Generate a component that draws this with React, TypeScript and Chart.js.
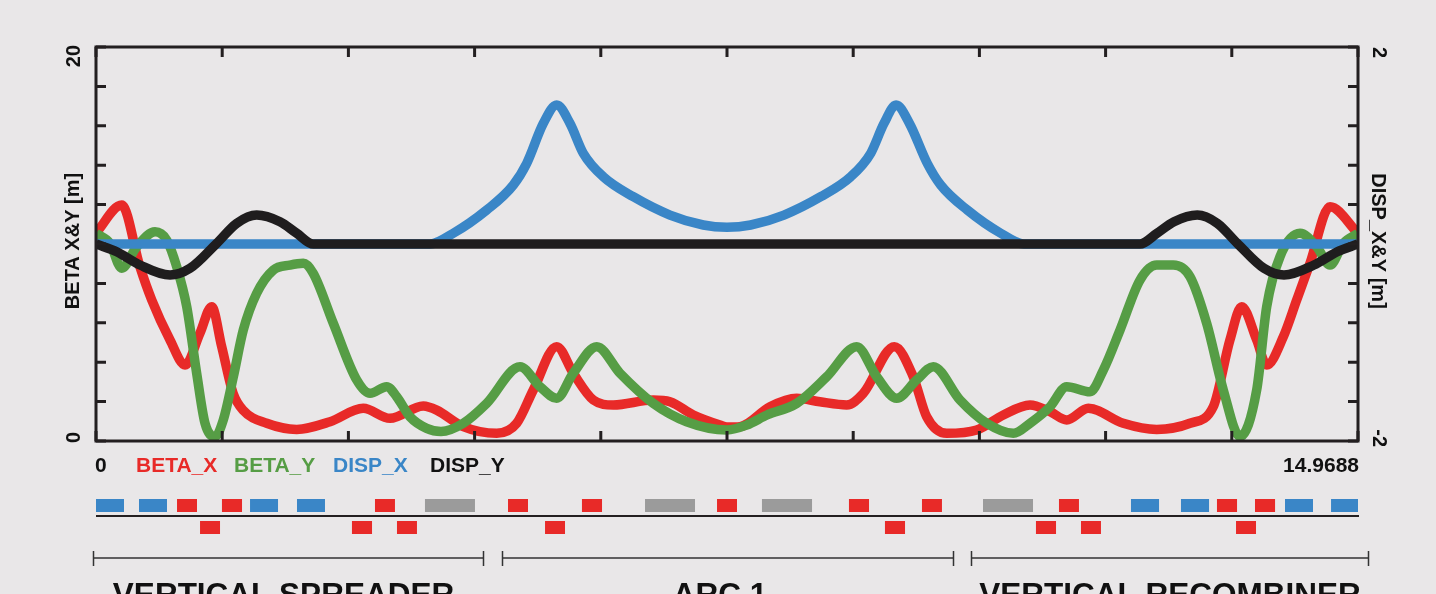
import React, { useEffect, useRef } from 'react';
import { Chart, registerables } from 'chart.js';

Chart.register(...registerables);

// ---------------- data ----------------
const S_MIN = 0;
const S_MAX = 14.9688;

const BETA_X_S = [0, 0.305, 0.522, 0.661, 0.878, 1.056, 1.234, 1.372, 1.491, 1.625, 1.744, 2.025, 2.381, 2.776, 3.17, 3.487, 3.882, 4.041, 4.357, 4.753, 4.99, 5.187, 5.464, 5.661, 5.899, 6.136, 6.61, 6.808, 7.085, 7.401, 7.484, 7.638, 7.994, 8.311, 8.587, 8.904, 9.101, 9.47, 9.694, 9.853, 10.09, 10.446, 10.762, 11.078, 11.316, 11.514, 11.77, 12.185, 12.581, 12.976, 13.252, 13.45, 13.589, 13.767, 13.886, 14.083, 14.242, 14.399, 14.637, 14.9688];
const BETA_X = [10.56, 11.98, 8.83, 7.16, 5.13, 3.86, 5.48, 6.82, 4.79, 2.44, 1.57, 0.9, 0.59, 0.98, 1.66, 1.15, 1.78, 1.57, 0.73, 0.39, 0.9, 2.59, 4.79, 3.44, 2.08, 1.83, 2.08, 1.99, 1.32, 0.81, 0.71, 0.73, 1.74, 2.17, 1.99, 1.83, 2.42, 4.79, 3.26, 1.23, 0.39, 0.56, 1.32, 1.83, 1.49, 1.07, 1.66, 0.9, 0.59, 0.9, 1.74, 5.13, 6.82, 5.13, 3.86, 5.29, 7.16, 9.02, 11.89, 10.54];

const BETA_Y_S = [0, 0.166, 0.305, 0.483, 0.7, 0.839, 0.957, 1.076, 1.194, 1.293, 1.411, 1.51, 1.629, 1.747, 1.906, 2.103, 2.301, 2.459, 2.577, 2.815, 3.092, 3.25, 3.448, 3.567, 3.724, 3.922, 4.092, 4.357, 4.634, 5.029, 5.266, 5.464, 5.661, 5.939, 6.215, 6.61, 7.006, 7.484, 7.718, 7.959, 8.311, 8.667, 9.022, 9.26, 9.497, 9.734, 9.931, 10.248, 10.565, 10.881, 11.078, 11.316, 11.514, 11.79, 11.948, 12.146, 12.383, 12.581, 12.778, 12.976, 13.174, 13.371, 13.569, 13.767, 13.886, 14.044, 14.281, 14.479, 14.637, 14.795, 14.9688];
const BETA_Y = [10.54, 10.03, 8.77, 9.86, 10.62, 10.2, 8.85, 6.82, 3.44, 0.9, 0.22, 1.07, 3.26, 5.63, 7.5, 8.68, 8.93, 9.02, 8.51, 5.97, 3.1, 2.42, 2.76, 2.25, 1.23, 0.64, 0.48, 0.9, 1.91, 3.77, 2.76, 2.17, 3.44, 4.79, 3.44, 1.91, 0.98, 0.56, 0.81, 1.32, 1.91, 3.26, 4.79, 3.26, 2.17, 3.1, 3.77, 2.08, 0.9, 0.39, 0.9, 1.74, 2.76, 2.5, 3.6, 5.63, 8.17, 8.93, 8.93, 8.34, 5.97, 2.59, 0.22, 2.59, 6.82, 9.36, 10.54, 9.86, 8.93, 10.03, 10.54];

const DISP_X_S = [0, 3.962, 4.238, 4.634, 4.95, 5.109, 5.306, 5.464, 5.622, 5.78, 6.017, 6.373, 6.808, 7.203, 7.484, 7.765, 8.16, 8.596, 8.952, 9.189, 9.347, 9.49, 9.648, 9.86, 10.019, 10.335, 10.731, 11.007, 14.9688];
const DISP_X = [0, 0, 0.109, 0.345, 0.599, 0.819, 1.225, 1.411, 1.225, 0.921, 0.683, 0.48, 0.294, 0.193, 0.17, 0.193, 0.294, 0.48, 0.683, 0.921, 1.225, 1.411, 1.225, 0.819, 0.599, 0.345, 0.109, 0, 0];

const DISP_Y_S = [0, 0.246, 0.522, 0.878, 1.115, 1.432, 1.669, 1.906, 2.182, 2.381, 2.577, 12.383, 12.585, 12.786, 13.063, 13.3, 13.537, 13.854, 14.091, 14.446, 14.723, 14.9688];
const DISP_Y = [0, -0.078, -0.213, -0.315, -0.247, 0.007, 0.21, 0.294, 0.226, 0.109, 0, 0, 0.109, 0.226, 0.294, 0.21, 0.007, -0.247, -0.315, -0.213, -0.078, 0];

const X_TICKS = [0, 1.49688, 2.99376, 4.49064, 5.98752, 7.4844, 8.98128, 10.47816, 11.97504, 13.47192, 14.9688];
const BETA_TICKS = [0, 2, 4, 6, 8, 10, 12, 14, 16, 18, 20];
const DISP_TICKS = [-2, -1.6, -1.2, -0.8, -0.4, 0, 0.4, 0.8, 1.2, 1.6, 2];

const X_LABEL_START = '0';
const X_LABEL_END = '14.9688';
const BETA_LABEL_MIN = '0';
const BETA_LABEL_MAX = '20';
const DISP_LABEL_MIN = '-2';
const DISP_LABEL_MAX = '2';
const BETA_TITLE = 'BETA X&Y [m]';
const DISP_TITLE = 'DISP_X&Y [m]';
const SERIES_NAMES = ['BETA_X', 'BETA_Y', 'DISP_X', 'DISP_Y'];

// lattice elements [start s, end s]
const BENDS = [[0, 0.332], [0.51, 0.842], [1.827, 2.159], [2.384, 2.716], [12.276, 12.609], [12.869, 13.202], [14.103, 14.435], [14.649, 14.9688]];
const QUADS_UP = [[0.961, 1.198], [1.494, 1.732], [3.309, 3.546], [4.887, 5.124], [5.764, 6.002], [7.366, 7.603], [8.931, 9.169], [9.797, 10.034], [11.422, 11.659], [13.296, 13.534], [13.747, 13.985]];
const QUADS_DOWN = [[1.234, 1.471], [3.036, 3.274], [3.57, 3.807], [5.326, 5.563], [9.358, 9.596], [11.149, 11.387], [11.683, 11.92], [13.522, 13.759]];
const OTHERS = [[3.902, 4.495], [6.512, 7.105], [7.899, 8.493], [10.521, 11.114]];

const SECTION_NAMES = ['VERTICAL SPREADER', 'ARC 1', 'VERTICAL RECOMBINER'];
const SECTION_RANGES = [[-0.04, 4.594], [4.812, 10.169], [10.375, 15.091]];

// ---------------- style ----------------
const BG = '#e9e7e8';
const INK = '#231f20';
const RED = '#e82a28';
const GREEN = '#569d45';
const BLUE = '#3a86c7';
const BLACK = '#1f1d1e';
const GRAY = '#9b9b9b';
const SERIES_COLORS = [RED, GREEN, BLUE, '#111111'];
const FONT = '"Liberation Sans", Arial, Helvetica, sans-serif';
const SECTION_LABEL_SHIFT = [-5, -8, 0];

const pts = (xs: number[], ys: number[]) => xs.map((x, i) => ({ x, y: ys[i] }));

const decorPlugin = {
  id: 'decor',
  beforeDraw(chart: any) {
    const { ctx, width, height } = chart;
    ctx.save();
    ctx.fillStyle = BG;
    ctx.fillRect(0, 0, width, height);
    ctx.restore();
  },
  afterDatasetsDraw(chart: any) {
    const { ctx, chartArea: a, scales } = chart;
    const xs = scales.x;
    const ys = scales.y;
    const y2 = scales.y2;
    ctx.save();

    // frame
    ctx.strokeStyle = INK;
    ctx.lineWidth = 3;
    ctx.strokeRect(a.left, a.top, a.right - a.left, a.bottom - a.top);

    // inward ticks
    ctx.beginPath();
    X_TICKS.forEach((v) => {
      const px = xs.getPixelForValue(v);
      ctx.moveTo(px, a.top);
      ctx.lineTo(px, a.top + 10);
      ctx.moveTo(px, a.bottom);
      ctx.lineTo(px, a.bottom - 10);
    });
    BETA_TICKS.forEach((v) => {
      const py = ys.getPixelForValue(v);
      ctx.moveTo(a.left, py);
      ctx.lineTo(a.left + 10, py);
    });
    DISP_TICKS.forEach((v) => {
      const py = y2.getPixelForValue(v);
      ctx.moveTo(a.right, py);
      ctx.lineTo(a.right - 10, py);
    });
    ctx.stroke();

    ctx.font = `bold 20px ${FONT}`;
    ctx.fillStyle = '#111';
    ctx.textBaseline = 'alphabetic';

    const rot = (x: number, y: number, ang: number, align: CanvasTextAlign, text: string) => {
      ctx.save();
      ctx.translate(x, y);
      ctx.rotate(ang);
      ctx.textAlign = align;
      ctx.fillText(text, 0, 0);
      ctx.restore();
    };
    rot(a.left - 16, ys.getPixelForValue(20) - 2, -Math.PI / 2, 'right', BETA_LABEL_MAX);
    rot(a.left - 16, ys.getPixelForValue(0) + 2, -Math.PI / 2, 'left', BETA_LABEL_MIN);
    rot(a.left - 17, (a.top + a.bottom) / 2 - 3, -Math.PI / 2, 'center', BETA_TITLE);

    rot(a.right + 15, y2.getPixelForValue(2), Math.PI / 2, 'left', DISP_LABEL_MAX);
    rot(a.right + 15, y2.getPixelForValue(-2) + 6, Math.PI / 2, 'right', DISP_LABEL_MIN);
    rot(a.right + 14, (a.top + a.bottom) / 2 - 3, Math.PI / 2, 'center', DISP_TITLE);

    // legend row
    ctx.font = `bold 21px ${FONT}`;
    const ly = a.bottom + 31;
    ctx.textAlign = 'left';
    ctx.fillStyle = '#111';
    ctx.fillText(X_LABEL_START, a.left - 1, ly);
    const legendX = [136, 234, 333, 430];
    SERIES_NAMES.forEach((n, i) => {
      ctx.fillStyle = SERIES_COLORS[i];
      ctx.fillText(n, legendX[i], ly);
    });
    ctx.fillStyle = '#111';
    ctx.textAlign = 'right';
    ctx.fillText(X_LABEL_END, a.right + 1, ly);

    // lattice
    const drawRow = (list: number[][], color: string, top: number, h: number) => {
      ctx.fillStyle = color;
      list.forEach(([s0, s1]) => {
        const p0 = xs.getPixelForValue(s0);
        const p1 = xs.getPixelForValue(s1);
        ctx.fillRect(p0, top, p1 - p0, h);
      });
    };
    drawRow(BENDS, BLUE, 499, 13);
    drawRow(OTHERS, GRAY, 499, 13);
    drawRow(QUADS_UP, RED, 499, 13);
    drawRow(QUADS_DOWN, RED, 521, 13);

    ctx.strokeStyle = INK;
    ctx.lineWidth = 2;
    ctx.beginPath();
    ctx.moveTo(xs.getPixelForValue(S_MIN), 516);
    ctx.lineTo(xs.getPixelForValue(S_MAX) + 1, 516);
    ctx.stroke();

    // sections
    ctx.strokeStyle = '#333';
    ctx.lineWidth = 1.5;
    ctx.font = `bold 31.5px ${FONT}`;
    ctx.fillStyle = '#111';
    ctx.textAlign = 'center';
    SECTION_RANGES.forEach(([s0, s1], i) => {
      const p0 = Math.round(xs.getPixelForValue(s0)) + 0.5;
      const p1 = Math.round(xs.getPixelForValue(s1)) + 0.5;
      ctx.beginPath();
      ctx.moveTo(p0, 558);
      ctx.lineTo(p1, 558);
      ctx.moveTo(p0, 551);
      ctx.lineTo(p0, 566);
      ctx.moveTo(p1, 551);
      ctx.lineTo(p1, 566);
      ctx.stroke();
      ctx.fillText(SECTION_NAMES[i], (p0 + p1) / 2 + SECTION_LABEL_SHIFT[i], 605);
    });

    ctx.restore();
  },
};

export default function App() {
  const ref = useRef<HTMLCanvasElement | null>(null);

  useEffect(() => {
    document.body.style.margin = '0';
    document.body.style.background = BG;
    const canvas = ref.current;
    if (!canvas) return;
    const common = {
      pointRadius: 0,
      borderWidth: 9.5,
      fill: false,
      cubicInterpolationMode: 'monotone' as const,
      borderJoinStyle: 'round' as const,
      borderCapStyle: 'butt' as const,
      clip: 0,
    };
    const chart = new Chart(canvas, {
      type: 'line',
      data: {
        datasets: [
          { ...common, label: 'DISP_Y', data: pts(DISP_Y_S, DISP_Y), borderColor: BLACK, yAxisID: 'y2', order: 0 },
          { ...common, label: 'DISP_X', data: pts(DISP_X_S, DISP_X), borderColor: BLUE, yAxisID: 'y2', order: 1 },
          { ...common, label: 'BETA_Y', data: pts(BETA_Y_S, BETA_Y), borderColor: GREEN, yAxisID: 'y', order: 2 },
          { ...common, label: 'BETA_X', data: pts(BETA_X_S, BETA_X), borderColor: RED, yAxisID: 'y', order: 3 },
        ],
      },
      options: {
        animation: false,
        responsive: false,
        devicePixelRatio: 1,
        layout: { padding: { left: 96, right: 78, top: 47, bottom: 153 } },
        plugins: { legend: { display: false }, tooltip: { enabled: false } },
        scales: {
          x: { type: 'linear', min: S_MIN, max: S_MAX, display: false },
          y: { type: 'linear', min: 0, max: 20, display: false },
          y2: { type: 'linear', min: -2, max: 2, display: false, position: 'right' },
        },
      },
      plugins: [decorPlugin],
    } as any);
    return () => chart.destroy();
  }, []);

  return (
    <div style={{ width: 1436, height: 594, overflow: 'hidden' }}>
      <canvas ref={ref} width={1436} height={594} style={{ display: 'block' }} />
    </div>
  );
}
